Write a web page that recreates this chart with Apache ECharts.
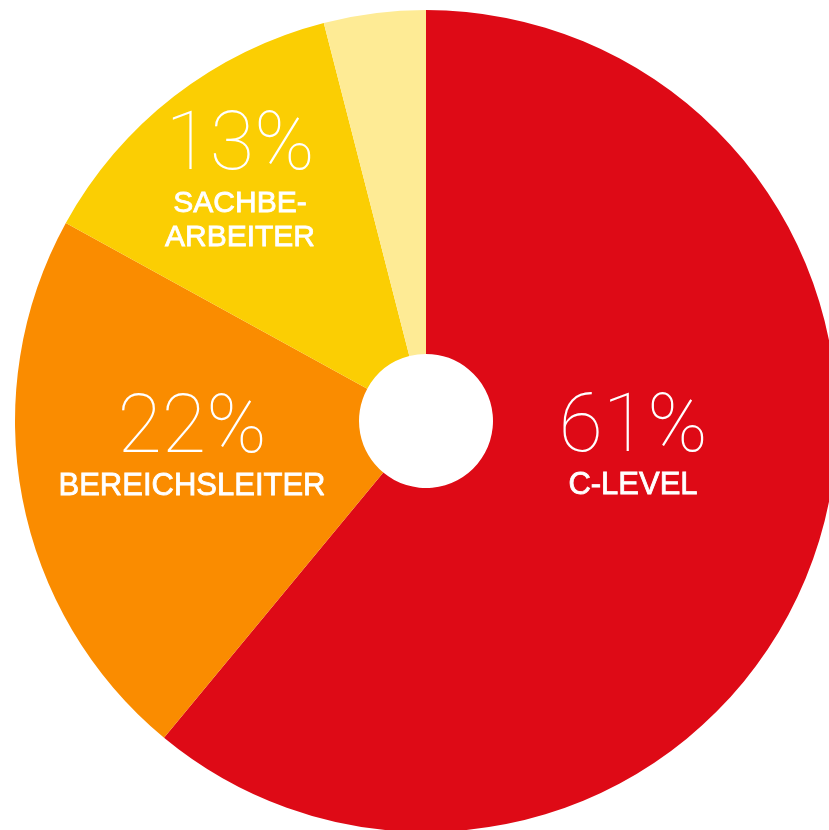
<!DOCTYPE html>
<html>
<head>
<meta charset="utf-8">
<script src="https://cdn.jsdelivr.net/npm/echarts@6/dist/echarts.min.js"></script>
<style>
  html, body { margin: 0; padding: 0; background: #fff; }
  #chart { width: 829px; height: 830px; }
</style>
</head>
<body>
<div id="chart"></div>
<script>
const names = ["C-LEVEL", "BEREICHSLEITER", "SACHBE-\nARBEITER", "SONSTIGE"]
const values = [61, 22, 13, 4]
const showLabel = [true, true, true, false]

const colors = ["#DE0A16", "#FA8C00", "#FBCE03", "#FEEB95"]
// where each label block sits (picture px)
const labelCenters = [[633, 448], [192, 449], [240, 183], [0, 0]]

const chart = echarts.init(document.getElementById("chart"))

const nameStyle = {
  fontFamily: "Liberation Sans",
  fontSize: 31,
  lineHeight: 34,
  color: "#fff",
  textBorderColor: "#fff",
  textBorderWidth: 0.8
}

const option = {
  backgroundColor: "#fff",
  animation: false,
  series: [{
    type: "pie",
    center: [426, 421],
    radius: [67, 411],
    startAngle: 90,
    clockwise: true,
    avoidLabelOverlap: false,
    data: names.map((n, i) => ({
      name: n,
      value: values[i],
      itemStyle: { color: colors[i] },
      label: { show: showLabel[i] }
    })),
    label: {
      position: "inside",
      color: "#fff",
      align: "center",
      formatter: (p) => {
        const parts = p.name.split("\n")
        const tag = parts.length > 1 ? "small" : "name"
        return "{pct|" + p.value + "%}\n" + parts.map(s => "{" + tag + "|" + s + "}").join("\n")
      },
      rich: {
        pct: {
          fontFamily: "Roboto",
          fontWeight: 100,
          fontSize: 81,
          lineHeight: 75,
          color: "#fff"
        },
        name: nameStyle,
        small: Object.assign({}, nameStyle, { fontSize: 30, lineHeight: 34 })
      }
    },
    labelLine: { show: false },
    labelLayout: (params) => {
      const c = labelCenters[params.dataIndex]
      return { x: c[0], y: c[1], align: "center", verticalAlign: "middle" }
    },
    emphasis: { disabled: true }
  }]
}

chart.setOption(option)
</script>
</body>
</html>
